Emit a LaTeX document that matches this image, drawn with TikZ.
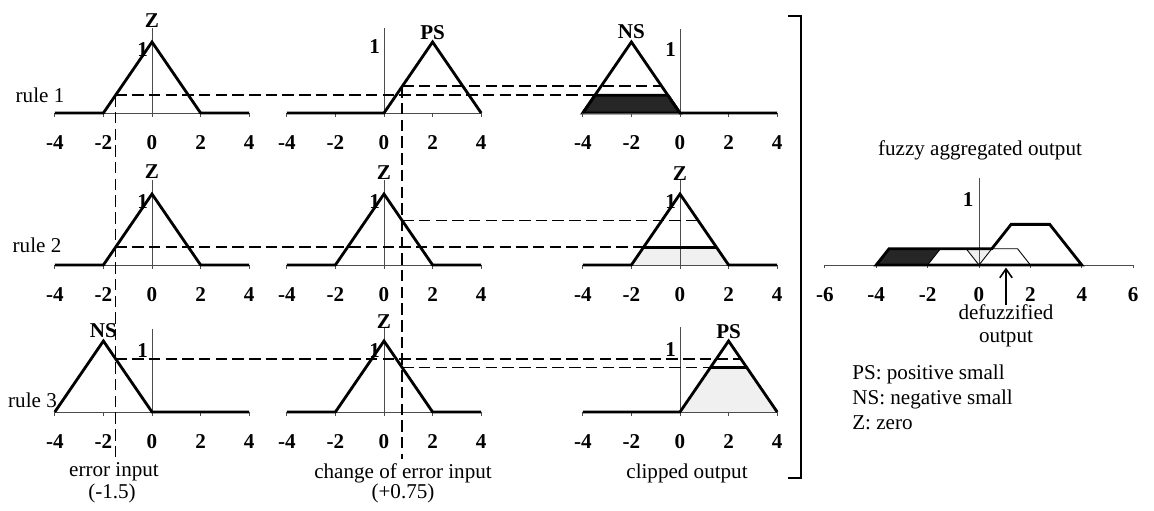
\documentclass[tikz,border=0pt]{standalone}
\usepackage{fontspec}
\setmainfont{Liberation Serif}
\usepackage{tikz}
\usetikzlibrary{arrows.meta, positioning}
\usepackage{xcolor}
\definecolor{ClipDark}{HTML}{262626}
\definecolor{ClipLight}{HTML}{F0F0F0}
\tikzset{
    % panel units
    panel/.style={x=0.486cm, y=1.42cm},
    aggpanel/.style={x=0.514cm, y=1.3cm},
    % lines
    axisline/.style={line width=0.4pt, draw=black!70},
    mfline/.style={line width=1.6pt, line join=miter, draw=black},
    thinmf/.style={line width=0.5pt, draw=black},
    guide/.style={line width=1pt, dash pattern=on 6.5pt off 3pt, draw=black},
    bracket/.style={line width=1.2pt, draw=black},
    crisparrow/.style={-{Straight Barb[length=5pt,width=7pt]}, line width=0.9pt},
    % fills
    cutdark/.style={fill=ClipDark},
    cutlight/.style={fill=ClipLight},
    % text
    ticklabel/.style={font=\fontsize{12}{14}\selectfont\bfseries, inner sep=0pt},
    mflabel/.style={font=\fontsize{12}{14}\selectfont\bfseries, inner sep=0pt},
    unitlabel/.style={font=\fontsize{12}{14}\selectfont\bfseries, inner sep=0pt, anchor=east},
    plainlabel/.style={font=\fontsize{12}{14}\selectfont, inner sep=0pt}
}

\begin{document}
\begin{tikzpicture}
    \useasboundingbox (0,0) rectangle (23.08,10.22);

    % rule labels
    \node[plainlabel] (r1) at (0.8,8.32) {rule 1};
    \node[plainlabel] (r2) at (0.74,5.32) {rule 2};
    \node[plainlabel] (r3) at (0.65,2.22) {rule 3};

    % ---- rule 1 ----
    \begin{scope}[shift={(3.04cm,7.96cm)}, panel]
        \draw[axisline] (-4,0) -- (4,0);
        \draw[axisline] (0,0) -- (0,1.2);
        \foreach \t in {-4,-2,0,2,4} {
            \draw[axisline] (\t,0) -- (\t,-0.05);
            \node[ticklabel] at (\t,-0.41) {\t};
        }
        \node[unitlabel] (u11) at (-0.15,0.9) {1};
        \draw[mfline] (-4,0) -- (-2,0) -- (0,1) -- (2,0) -- (4,0);
        \node[mflabel] (m11) at (0,1.3) {Z};
        \coordinate (e1) at (-1.5,0.25);
    \end{scope}

    \begin{scope}[shift={(7.68cm,7.96cm)}, panel]
        \draw[axisline] (-4,0) -- (4,0);
        \draw[axisline] (0,0) -- (0,1.2);
        \foreach \t in {-4,-2,0,2,4} {
            \draw[axisline] (\t,0) -- (\t,-0.05);
            \node[ticklabel] at (\t,-0.41) {\t};
        }
        \node[unitlabel] (u12) at (-0.15,0.93) {1};
        \draw[mfline] (-4,0) -- (0,0) -- (2,1) -- (4,0);
        \node[mflabel] (m12) at (2,1.13) {PS};
        \coordinate (c1) at (0.75,0.375);
    \end{scope}

    \begin{scope}[shift={(13.6cm,7.96cm)}, panel]
        \filldraw[cutdark, mfline] (-4,0) -- (-3.5,0.25) -- (-0.5,0.25) -- (0,0) -- cycle;
        \draw[axisline] (-4,0) -- (4,0);
        \draw[axisline] (0,0) -- (0,1.18);
        \foreach \t in {-4,-2,0,2,4} {
            \draw[axisline] (\t,0) -- (\t,-0.05);
            \node[ticklabel] at (\t,-0.41) {\t};
        }
        \node[unitlabel] (u13) at (-0.15,0.9) {1};
        \draw[mfline] (-4,0) -- (-2,1) -- (0,0) -- (4,0);
        \node[mflabel] (m13) at (-2,1.15) {NS};
        \coordinate (n1a) at (-3.5,0.25);
        \coordinate (n1b) at (-0.75,0.375);
    \end{scope}

    % ---- rule 2 ----
    \begin{scope}[shift={(3.04cm,4.92cm)}, panel]
        \draw[axisline] (-4,0) -- (4,0);
        \draw[axisline] (0,0) -- (0,1.2);
        \foreach \t in {-4,-2,0,2,4} {
            \draw[axisline] (\t,0) -- (\t,-0.05);
            \node[ticklabel] at (\t,-0.41) {\t};
        }
        \node[unitlabel] (u21) at (-0.15,0.9) {1};
        \draw[mfline] (-4,0) -- (-2,0) -- (0,1) -- (2,0) -- (4,0);
        \node[mflabel] (m21) at (0,1.31) {Z};
        \coordinate (e2) at (-1.5,0.25);
    \end{scope}

    \begin{scope}[shift={(7.68cm,4.92cm)}, panel]
        \draw[axisline] (-4,0) -- (4,0);
        \draw[axisline] (0,0) -- (0,1.2);
        \foreach \t in {-4,-2,0,2,4} {
            \draw[axisline] (\t,0) -- (\t,-0.05);
            \node[ticklabel] at (\t,-0.41) {\t};
        }
        \node[unitlabel] (u22) at (-0.15,0.9) {1};
        \draw[mfline] (-4,0) -- (-2,0) -- (0,1) -- (2,0) -- (4,0);
        \node[mflabel] (m22) at (0,1.3) {Z};
        \coordinate (c2) at (0.75,0.625);
    \end{scope}

    \begin{scope}[shift={(13.6cm,4.92cm)}, panel]
        \fill[cutlight] (-2,0) -- (-1.5,0.25) -- (1.5,0.25) -- (2,0) -- cycle;
        \draw[axisline] (-4,0) -- (4,0);
        \draw[axisline] (0,0) -- (0,1.2);
        \foreach \t in {-4,-2,0,2,4} {
            \draw[axisline] (\t,0) -- (\t,-0.05);
            \node[ticklabel] at (\t,-0.41) {\t};
        }
        \node[unitlabel] (u23) at (-0.15,0.9) {1};
        \draw[mfline] (-4,0) -- (-2,0) -- (0,1) -- (2,0) -- (4,0);
        \draw[mfline] (-1.5,0.25) -- (1.5,0.25);
        \node[mflabel] (m23) at (0,1.29) {Z};
        \coordinate (z2a) at (-1.5,0.25);
        \coordinate (z2b) at (0.75,0.625);
    \end{scope}

    % ---- rule 3 ----
    \begin{scope}[shift={(3.04cm,1.98cm)}, panel]
        \draw[axisline] (-4,0) -- (4,0);
        \draw[axisline] (0,0) -- (0,1.17);
        \foreach \t in {-4,-2,0,2,4} {
            \draw[axisline] (\t,0) -- (\t,-0.05);
            \node[ticklabel] at (\t,-0.42) {\t};
        }
        \node[unitlabel] (u31) at (-0.15,0.87) {1};
        \draw[mfline] (-4,0) -- (-2,1) -- (0,0) -- (4,0);
        \node[mflabel] (m31) at (-2,1.15) {NS};
        \coordinate (e3) at (-1.5,0.75);
        \coordinate (ebot) at (-1.5,-0.68);
    \end{scope}

    \begin{scope}[shift={(7.68cm,1.98cm)}, panel]
        \draw[axisline] (-4,0) -- (4,0);
        \draw[axisline] (0,0) -- (0,1.2);
        \foreach \t in {-4,-2,0,2,4} {
            \draw[axisline] (\t,0) -- (\t,-0.05);
            \node[ticklabel] at (\t,-0.42) {\t};
        }
        \node[unitlabel] (u32) at (-0.15,0.87) {1};
        \draw[mfline] (-4,0) -- (-2,0) -- (0,1) -- (2,0) -- (4,0);
        \node[mflabel] (m32) at (0,1.28) {Z};
        \coordinate (c3) at (0.75,0.625);
        \coordinate (cbot) at (0.75,-0.66);
    \end{scope}

    \begin{scope}[shift={(13.6cm,1.98cm)}, panel]
        \fill[cutlight] (0,0) -- (1.25,0.625) -- (2.75,0.625) -- (4,0) -- cycle;
        \draw[axisline] (-4,0) -- (4,0);
        \draw[axisline] (0,0) -- (0,1.2);
        \foreach \t in {-4,-2,0,2,4} {
            \draw[axisline] (\t,0) -- (\t,-0.05);
            \node[ticklabel] at (\t,-0.42) {\t};
        }
        \node[unitlabel] (u33) at (-0.15,0.88) {1};
        \draw[mfline] (-4,0) -- (0,0) -- (2,1) -- (4,0);
        \draw[mfline] (1.25,0.625) -- (2.75,0.625);
        \node[mflabel] (m33) at (2,1.13) {PS};
        \coordinate (p3a) at (2.5,0.75);
        \coordinate (p3b) at (1.25,0.625);
    \end{scope}

    % projection lines
    \draw[guide] (e1) -- (ebot);
    \draw[guide] (c1) -- (cbot);
    \draw[guide] (e1) -- (n1a);
    \draw[guide] (c1) -- (n1b);
    \draw[guide] (e2) -- (z2a);
    \draw[guide] (c2) -- (z2b);
    \draw[guide] (e3) -- (p3a);
    \draw[guide] (c3) -- (p3b);

    % column captions
    \node[plainlabel] (errtxt) at (2.28,0.78) {error input};
    \node[plainlabel] (errval) at (2.24,0.36) {(-1.5)};
    \node[plainlabel] (dcetxt) at (8.06,0.76) {change of error input};
    \node[plainlabel] (dceval) at (8.06,0.36) {(+0.75)};
    \node[plainlabel] (cliptxt) at (13.74,0.76) {clipped output};

    % bracket
    \draw[bracket] (15.76,9.9) -- (16.02,9.9) -- (16.02,0.66) -- (15.76,0.66);

    % ---- aggregated output ----
    \node[plainlabel] (aggtxt) at (19.6,7.22) {fuzzy aggregated output};
    \begin{scope}[shift={(19.58cm,4.92cm)}, aggpanel]
        \fill[cutdark] (-4,0) -- (-3.5,0.25) -- (-1.5,0.25) -- (-2,0) -- cycle;
        \fill[cutlight] (-0.5,0.25) -- (0,0) -- (0.5,0.25) -- cycle;
        \draw[axisline] (-6,0) -- (6,0);
        \draw[axisline] (0,0) -- (0,1.34);
        \foreach \t in {-6,-4,-2,0,2,4,6} {
            \draw[axisline] (\t,0) -- (\t,-0.05);
            \node[ticklabel] at (\t,-0.45) {\t};
        }
        \node[unitlabel] (uagg) at (-0.2,1.0) {1};
        \draw[thinmf] (-2,0) -- (-1.5,0.25) -- (1.5,0.25) -- (2,0);
        \draw[thinmf] (-0.5,0.25) -- (0,0) -- (0.5,0.25);
        \draw[mfline] (-4,0) -- (-3.5,0.25) -- (0.5,0.25) -- (1.25,0.625)
            -- (2.75,0.625) -- (4,0) -- cycle;
        \coordinate (crisp) at (1.05,-0.04);
        \node[plainlabel, align=center, font=\fontsize{12}{13}\selectfont] (defz) at (1.05,-0.94) {defuzzified\\output};
    \end{scope}
    \draw[crisparrow] (defz) -- (crisp);

    % legend
    \node[plainlabel, anchor=north west, align=left, font=\fontsize{12}{14.2}\selectfont] (legend) at (17.04,2.92)
        {PS: positive small\\NS: negative small\\Z: zero};
\end{tikzpicture}
\end{document}
